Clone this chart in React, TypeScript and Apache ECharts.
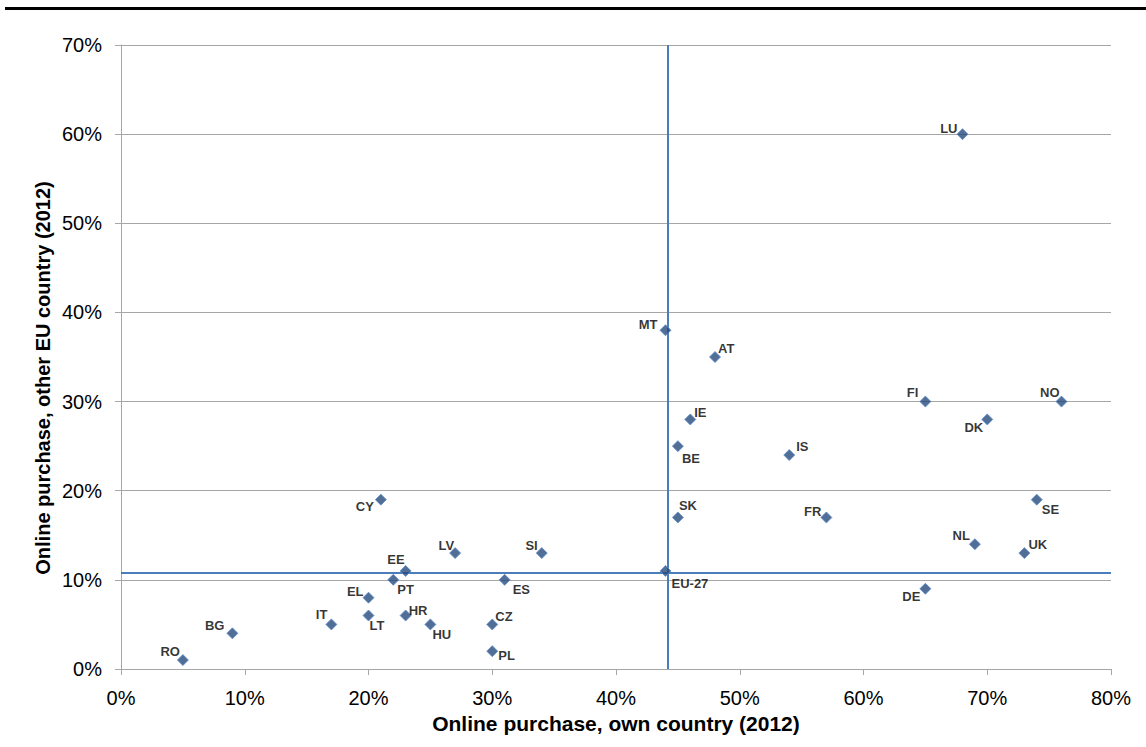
import React, { useEffect, useRef } from "react";
import * as echarts from "echarts";

const countries = ["RO","BG","IT","EL","LT","PT","EE","HR","HU","LV","CY","CZ","PL","ES","SI","EU-27","MT","AT","IE","BE","SK","IS","FR","FI","DE","LU","DK","NL","NO","SE","UK"];
const ownCountry = [5,9,17,20,20,22,23,23,25,27,21,30,30,31,34,44,44,48,46,45,45,54,57,65,65,68,70,69,76,74,73];
const otherEU = [1,4,5,8,6,10,11,6,5,13,19,5,2,10,13,11,38,35,28,25,17,24,17,30,9,60,28,14,30,19,13];
const eu27Own = 44.2;
const eu27Other = 10.8;
const xTicks = ["0%","10%","20%","30%","40%","50%","60%","70%","80%"];
const xTitle = "Online purchase, own country (2012)";
const yTitle = "Online purchase, other EU country (2012)";

// label placement: [align, dx, dy]
const labelPos: Record<string, [string, number, number]> = {
  RO: ["right", -3, -9], BG: ["right", -8, -8], IT: ["right", -4, -10], EL: ["right", -5, -6],
  LT: ["left", 1, 10], PT: ["left", 4, 10], EE: ["right", -1, -11], HR: ["left", 3, -5],
  HU: ["left", 2, 10], LV: ["right", -1, -8], CY: ["right", -7, 7], CZ: ["left", 3, -8],
  PL: ["left", 6, 4], ES: ["left", 8, 10], SI: ["right", -4, -8], "EU-27": ["left", 6, 13],
  MT: ["right", -8, -6], AT: ["left", 3, -9], IE: ["left", 4, -7], BE: ["left", 4, 12],
  SK: ["left", 1, -12], IS: ["left", 7, -9], FR: ["right", -5, -6], FI: ["right", -7, -9],
  DE: ["right", -5, 8], LU: ["right", -5, -6], DK: ["right", -4, 8], NL: ["right", -5, -9],
  NO: ["right", -2, -9], SE: ["left", 5, 10], UK: ["left", 4, -9],
};

const FONT = "Liberation Sans, Arial, sans-serif";

export default function App() {
  const ref = useRef<HTMLDivElement>(null);
  useEffect(() => {
    const chart = echarts.init(ref.current!, null, { renderer: "svg" });
    const data = countries.map((c, i) => {
      const [align, dx, dy] = labelPos[c];
      return {
        name: c,
        value: [ownCountry[i], otherEU[i]],
        label: { align, offset: [dx, dy] },
      };
    });
    chart.setOption({
      animation: false,
      backgroundColor: "#ffffff",
      textStyle: { fontFamily: FONT },
      grid: { left: 121, right: 35, top: 45, bottom: 78 },
      xAxis: {
        type: "value", min: 0, max: 80, interval: 10,
        name: xTitle, nameLocation: "middle", nameGap: 39,
        nameTextStyle: { fontWeight: "bold", fontSize: 21, color: "#000", fontFamily: FONT },
        axisLine: { show: true, lineStyle: { color: "#a6a6a6", width: 1 } },
        axisTick: { show: true, length: 6, lineStyle: { color: "#a6a6a6" } },
        axisLabel: { fontSize: 20, color: "#000", margin: 19, formatter: (v: number) => xTicks[Math.round(v / 10)] },
        splitLine: { show: false },
      },
      yAxis: {
        type: "value", min: 0, max: 70, interval: 10,
        axisLine: { show: true, lineStyle: { color: "#a6a6a6", width: 1 } },
        axisTick: { show: true, length: 6, lineStyle: { color: "#a6a6a6" } },
        axisLabel: { fontSize: 20, color: "#000", margin: 19, formatter: "{value}%" },
        splitLine: { show: true, lineStyle: { color: "#a6a6a6", width: 1 } },
      },
      graphic: [
        { type: "rect", left: 5, top: 7, shape: { width: 1141, height: 3 }, style: { fill: "#000" } },
        {
          type: "text", x: 43, y: 378, rotation: Math.PI / 2,
          style: { text: yTitle, fill: "#000", font: `bold 20px ${FONT}`, textAlign: "center", textVerticalAlign: "middle" },
        },
      ],
      series: [
        {
          type: "scatter",
          symbol: "diamond",
          symbolSize: 11,
          itemStyle: { color: "#254A7C", borderColor: "#5F8DC8", borderWidth: 1 },
          label: {
            show: true, position: "inside", formatter: "{b}",
            fontSize: 13, fontWeight: "bold", color: "#000", verticalAlign: "middle",
            fontFamily: FONT,
          },
          data,
          z: 3,
          markLine: {
            silent: true, symbol: "none", label: { show: false },
            lineStyle: { color: "#4A7EBB", width: 2, type: "solid" },
            data: [{ xAxis: eu27Own }, { yAxis: eu27Other }],
            z: 2,
          },
        },
      ],
    });
    return () => chart.dispose();
  }, []);
  return <div ref={ref} style={{ position: "fixed", left: 0, top: 0, width: 1146, height: 747 }} />;
}
